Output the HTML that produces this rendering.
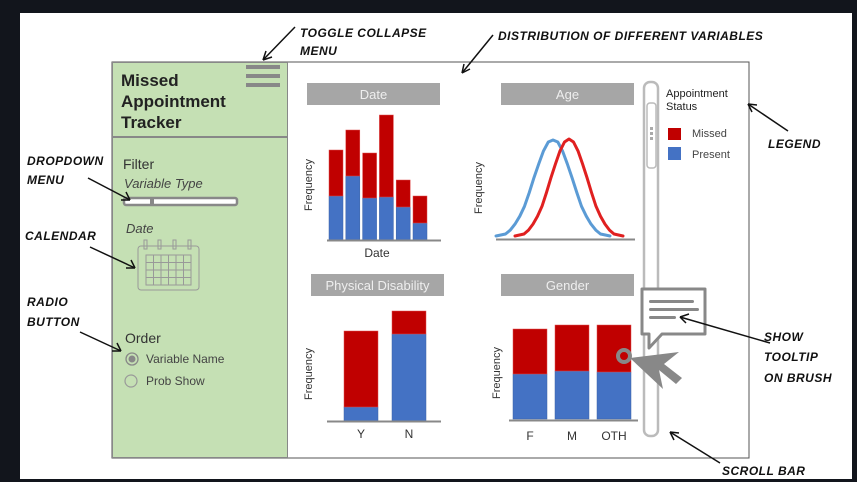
<!DOCTYPE html>
<html><head><meta charset="utf-8"><style>
body{margin:0;width:857px;height:482px;overflow:hidden;background:#fff;font-family:"Liberation Sans",sans-serif}
svg{display:block}
.hand{font-family:"Liberation Sans",sans-serif;font-weight:bold;font-style:italic;font-size:12px;fill:#111;letter-spacing:0.5px}
</style></head><body>
<svg width="857" height="482" viewBox="0 0 857 482">
<rect x="0" y="0" width="857" height="482" fill="#12151c"/>
<rect x="20" y="13" width="832" height="466" fill="#fff"/>
<rect x="112" y="62" width="637" height="396" fill="#fff" stroke="#555" stroke-width="1"/>
<rect x="112.5" y="62.5" width="175" height="395" fill="#c5e0b4" stroke="#888"/>
<line x1="112" y1="137" x2="287" y2="137" stroke="#888" stroke-width="2"/>
<g font-size="17" font-weight="bold" fill="#222">
<text x="121" y="86">Missed</text><text x="121" y="107">Appointment</text><text x="121" y="128">Tracker</text></g>
<g fill="#888">
<rect x="246" y="65" width="34" height="4"/><rect x="246" y="74" width="34" height="4"/><rect x="246" y="83" width="34" height="4"/></g>
<text x="123" y="169" font-size="14" fill="#333">Filter</text>
<text x="124" y="188" font-size="13" font-style="italic" fill="#444">Variable Type</text>
<g>
<rect x="124" y="198" width="113" height="7" rx="2" fill="#fff" stroke="#888" stroke-width="2.5"/>
<rect x="150" y="197" width="4" height="9" fill="#888"/></g>
<text x="126" y="233" font-size="13" font-style="italic" fill="#444">Date</text>
<g stroke="#999" fill="none" stroke-width="1">
<rect x="138" y="246" width="61" height="44" rx="3"/>
<rect x="146" y="255" width="45" height="30"/>
<line x1="153.5" y1="255" x2="153.5" y2="285"/><line x1="161" y1="255" x2="161" y2="285"/><line x1="168.5" y1="255" x2="168.5" y2="285"/><line x1="176" y1="255" x2="176" y2="285"/><line x1="183.5" y1="255" x2="183.5" y2="285"/>
<line x1="146" y1="262.5" x2="191" y2="262.5"/><line x1="146" y1="270" x2="191" y2="270"/><line x1="146" y1="277.5" x2="191" y2="277.5"/>
<rect x="144" y="240" width="3" height="9"/><rect x="158" y="240" width="3" height="9"/><rect x="173" y="240" width="3" height="9"/><rect x="188" y="240" width="3" height="9"/></g>
<text x="125" y="343" font-size="14" fill="#333">Order</text>
<g>
<circle cx="132" cy="359" r="6" fill="none" stroke="#888" stroke-width="1.3"/><circle cx="132" cy="359" r="3.5" fill="#888"/>
<text x="146" y="363" font-size="12" fill="#444">Variable Name</text></g>
<g>
<circle cx="131" cy="381" r="6" fill="none" stroke="#999" stroke-width="1.2"/>
<text x="146" y="385" font-size="12" fill="#444">Prob Show</text></g>
<g id="charts"></g>
<g>
<rect x="644" y="82" width="14" height="354" rx="6" fill="#fff" stroke="#bbb" stroke-width="2.5"/>
<rect x="647" y="103" width="9" height="65" rx="3" fill="#fff" stroke="#bbb" stroke-width="1.5"/>
<g fill="#aaa"><rect x="650" y="127" width="3" height="3"/><rect x="650" y="132" width="3" height="3"/><rect x="650" y="137" width="3" height="3"/></g></g>
<g font-size="11" fill="#222">
<text x="666" y="97">Appointment</text><text x="666" y="110">Status</text>
<rect x="668" y="128" width="13" height="12" fill="#c00000"/>
<text x="692" y="137" fill="#444">Missed</text>
<rect x="668" y="147" width="13" height="13" fill="#4472c4"/>
<text x="692" y="158" fill="#444">Present</text></g>
<g>
<path d="M642,289 H705 V334 H662 L649,348 V334 H642 Z" fill="#fff" stroke="#888" stroke-width="3" stroke-linejoin="round"/>
<rect x="649" y="300" width="45" height="3" rx="1.5" fill="#888"/><rect x="649" y="308" width="50" height="3" rx="1.5" fill="#888"/><rect x="649" y="316" width="27" height="3" rx="1.5" fill="#888"/></g>
<g>
<circle cx="624" cy="356" r="6" fill="none" stroke="#888" stroke-width="4"/>
<path d="M630,358 L679,352 L664,364 L682,378 L676,384 L659,370 L663,389 Z" fill="#888"/></g>
<g stroke="#111" stroke-width="1.5" fill="none">
<line x1="295" y1="27" x2="263" y2="60"/><path d="M263,60 l3,-9 M263,60 l9,-3"/>
<line x1="493" y1="35" x2="462" y2="73"/><path d="M462,73 l2,-9 M462,73 l8,-4"/>
<line x1="788" y1="131" x2="748" y2="104"/><path d="M748,104 l9,1 M748,104 l4,8"/>
<line x1="770" y1="343" x2="680" y2="317"/><path d="M680,317 l9,-3 M680,317 l6,6"/>
<line x1="720" y1="463" x2="670" y2="432"/><path d="M670,432 l9,1 M670,432 l4,8"/>
<line x1="88" y1="178" x2="130" y2="200"/><path d="M130,200 l-9,0 M130,200 l-4,-8"/>
<line x1="90" y1="247" x2="135" y2="268"/><path d="M135,268 l-9,0 M135,268 l-4,-8"/>
<line x1="80" y1="332" x2="121" y2="351"/><path d="M121,351 l-9,0 M121,351 l-4,-8"/></g>
<g class="hand">
<text x="300" y="37" class="hand">TOGGLE COLLAPSE</text><text x="300" y="55" class="hand">MENU</text>
<text x="498" y="40" class="hand">DISTRIBUTION OF DIFFERENT VARIABLES</text>
<text x="768" y="148" class="hand">LEGEND</text>
<text x="764" y="341" class="hand">SHOW</text><text x="764" y="361" class="hand">TOOLTIP</text><text x="764" y="382" class="hand">ON BRUSH</text>
<text x="722" y="475" class="hand">SCROLL BAR</text>
<text x="27" y="165" class="hand">DROPDOWN</text><text x="27" y="184" class="hand">MENU</text>
<text x="25" y="240" class="hand">CALENDAR</text>
<text x="27" y="306" class="hand">RADIO</text><text x="27" y="326" class="hand">BUTTON</text></g>
</svg>
<script>
const dateCats=["d1","d2","d3","d4","d5","d6"];
const dateMissed=[46,46,45,82,27,27];
const datePresent=[44,64,42,43,33,17];
const ageX=[-3,-2.75,-2.5,-2.25,-2,-1.75,-1.5,-1.25,-1,-0.75,-0.5,-0.25,0,0.25,0.5,0.75,1,1.25,1.5,1.75,2,2.25,2.5,2.75,3];
const agePresent=[2,3,4,8,14,22,32,46,61,75,88,97,99,97,88,75,61,46,32,22,14,8,4,3,2];
const ageMissed=[2,3,4,8,14,22,32,46,61,75,88,97,100,97,88,75,61,46,32,22,14,8,4,3,2];
const disCats=["Y","N"];
const disMissed=[76,23];
const disPresent=[14,87];
const genCats=["F","M","OTH"];
const genMissed=[45,46,47];
const genPresent=[45,48,47];
const NS="http://www.w3.org/2000/svg";
const g=document.getElementById('charts');
function mk(t,a,p){const e=document.createElementNS(NS,t);for(const k in a)e.setAttribute(k,a[k]);(p||g).appendChild(e);return e;}
function title(x,y,w,txt,name){const r=mk('rect',{x:x,y:y,width:w,height:22,fill:'#a6a6a6'});


const t=mk('text',{x:x+w/2,y:y+16,'text-anchor':'middle','font-size':13,fill:'#eee'});t.textContent=txt;

}
function ylab(x,y,name){const t=mk('text',{x:0,y:0,transform:`translate(${x},${y}) rotate(-90)`,'text-anchor':'middle','font-size':11,fill:'#333'});t.textContent='Frequency';

}
function axis(x1,x2,y,name){const l=mk('line',{x1:x1,x2:x2,y1:y,y2:y,stroke:'#888','stroke-width':2});

}
function stacked(cats,pres,miss,x0,step,bw,base,scale,prefix,labels,ly){
 cats.forEach((c,i)=>{const x=x0+i*step;const hp=pres[i]*scale,hm=miss[i]*scale;
  const b=mk('rect',{x:x,y:base-hp,width:bw,height:hp,fill:'#4472c4',stroke:'#3a62a8','stroke-width':0.5});
  
  
  const r=mk('rect',{x:x,y:base-hp-hm,width:bw,height:hm,fill:'#c00000',stroke:'#e05050','stroke-width':0.5});
  
  
  if(labels){const t=mk('text',{x:x+bw/2,y:ly,'text-anchor':'middle','font-size':12,fill:'#333'});t.textContent=c;
  
  }
 });}
title(307,83,133,'Date','date-chart-title');
stacked(dateCats,datePresent,dateMissed,329,16.8,14,240,1,'date-bar',false);
axis(327,441,240.5,'date-x-axis');
ylab(312,185,'date-y-axis-title');
let t=mk('text',{x:377,y:257,'text-anchor':'middle','font-size':12,fill:'#333'});t.textContent='Date';


title(501,83,133,'Age','age-chart-title');
axis(496,635,239.5,'age-x-axis');
ylab(482,188,'age-y-axis-title');
function curve(vals,cx,sx,color,name){
 const pts=ageX.map((v,i)=>(cx+v*sx).toFixed(1)+','+(238-vals[i]*0.99).toFixed(1));
 const p=mk('polyline',{points:pts.join(' '),fill:'none',stroke:color,'stroke-width':3,'stroke-linejoin':'round','stroke-linecap':'round'});
 
 }
curve(agePresent,553,19,'#5b9bd5','age-present-curve');
curve(ageMissed,569,18,'#e02020','age-missed-curve');
title(311,274,133,'Physical Disability','disability-chart-title');
stacked(disCats,disPresent,disMissed,344,48,34,421,1,'disability-bar',true,438);
axis(327,441,421.5,'disability-x-axis');
ylab(312,374,'disability-y-axis-title');
title(501,274,133,'Gender','gender-chart-title');
stacked(genCats,genPresent,genMissed,513,42,34,419,1,'gender-bar',true,440);
axis(509,638,420.5,'gender-x-axis');
ylab(500,373,'gender-y-axis-title');
</script>
</body></html>
